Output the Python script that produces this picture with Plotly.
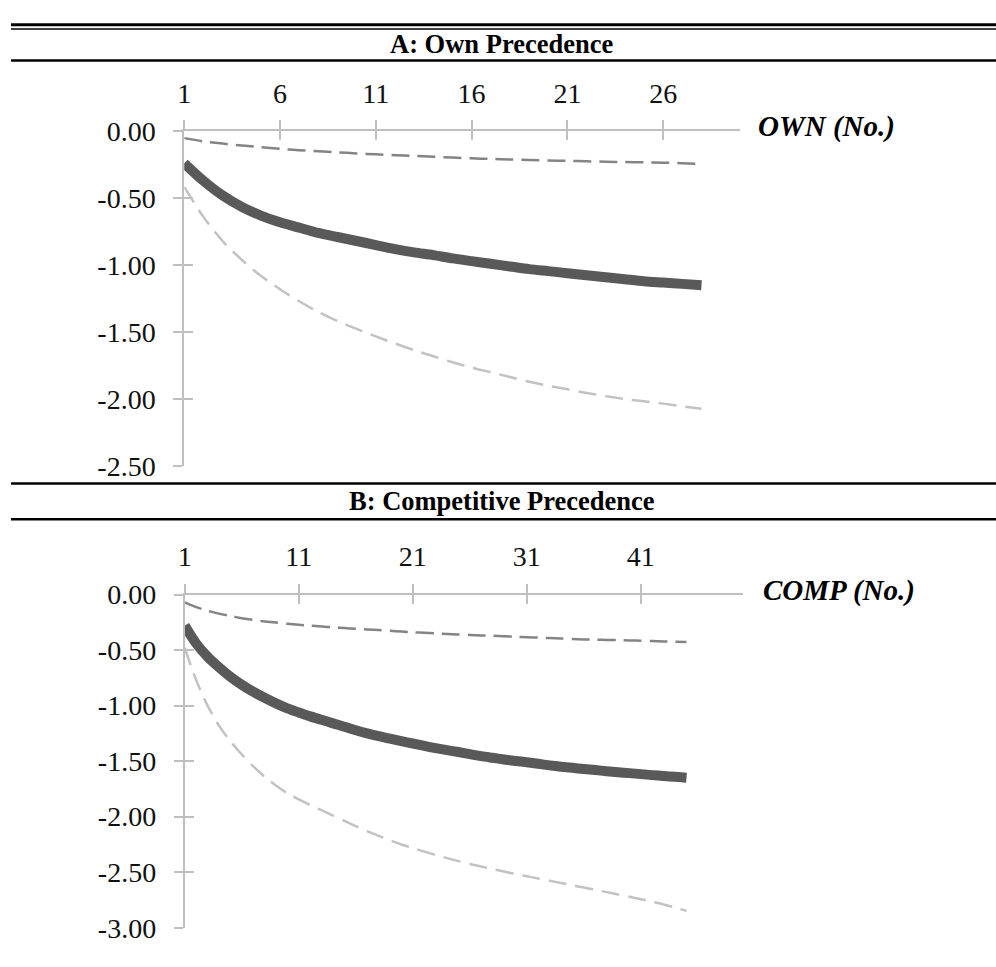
import plotly.graph_objects as go

# ---------------- data ----------------
own_x = list(range(1, 29))
own_mean = [-0.24, -0.37, -0.48, -0.565, -0.63, -0.68, -0.72, -0.76, -0.79, -0.82,
            -0.85, -0.88, -0.905, -0.925, -0.95, -0.97, -0.99, -1.01, -1.03, -1.045,
            -1.06, -1.075, -1.09, -1.105, -1.12, -1.13, -1.14, -1.15]
own_upper = [-0.052, -0.076, -0.093, -0.107, -0.12, -0.132, -0.142, -0.150, -0.158, -0.166,
             -0.173, -0.179, -0.185, -0.191, -0.197, -0.203, -0.207, -0.211, -0.215, -0.219,
             -0.222, -0.225, -0.228, -0.231, -0.233, -0.235, -0.240, -0.245]
own_lower = [-0.416, -0.64, -0.82, -0.96, -1.08, -1.18, -1.27, -1.35, -1.418, -1.476,
             -1.532, -1.585, -1.635, -1.68, -1.725, -1.765, -1.80, -1.835, -1.87, -1.90,
             -1.927, -1.954, -1.978, -2.0, -2.017, -2.034, -2.054, -2.073]

comp_x = list(range(1, 46))
comp_mean = [-0.28, -0.44, -0.56, -0.655, -0.74, -0.812, -0.875, -0.93, -0.98, -1.025,
             -1.062, -1.097, -1.128, -1.16, -1.19, -1.222, -1.25, -1.275, -1.297, -1.32,
             -1.341, -1.363, -1.383, -1.401, -1.418, -1.437, -1.455, -1.47, -1.485, -1.498,
             -1.51, -1.524, -1.538, -1.55, -1.56, -1.571, -1.58, -1.591, -1.6, -1.608,
             -1.617, -1.626, -1.634, -1.641, -1.649]
comp_upper = [-0.07, -0.113, -0.146, -0.172, -0.194, -0.213, -0.229, -0.242, -0.253, -0.264,
              -0.273, -0.281, -0.288, -0.295, -0.302, -0.308, -0.314, -0.32, -0.327, -0.334,
              -0.34, -0.345, -0.35, -0.355, -0.36, -0.364, -0.368, -0.372, -0.376, -0.38,
              -0.384, -0.388, -0.392, -0.396, -0.40, -0.404, -0.406, -0.409, -0.411, -0.414,
              -0.416, -0.419, -0.422, -0.425, -0.428]
comp_lower = [-0.48, -0.77, -1.0, -1.18, -1.32, -1.44, -1.545, -1.64, -1.72, -1.79,
              -1.845, -1.895, -1.942, -1.99, -2.037, -2.085, -2.13, -2.172, -2.212, -2.25,
              -2.283, -2.315, -2.344, -2.373, -2.4, -2.426, -2.449, -2.472, -2.493, -2.516,
              -2.536, -2.557, -2.577, -2.597, -2.618, -2.638, -2.658, -2.679, -2.7, -2.72,
              -2.743, -2.766, -2.79, -2.818, -2.848]

own_xticks = [1, 6, 11, 16, 21, 26]
comp_xticks = [1, 11, 21, 31, 41]
own_yticks = [0.0, -0.5, -1.0, -1.5, -2.0, -2.5]
own_ytext = ["0.00", "-0.50", "-1.00", "-1.50", "-2.00", "-2.50"]
comp_yticks = [0.0, -0.5, -1.0, -1.5, -2.0, -2.5, -3.0]
comp_ytext = ["0.00", "-0.50", "-1.00", "-1.50", "-2.00", "-2.50", "-3.00"]

panel_titles = ["A: Own Precedence", "B: Competitive Precedence"]
axis_titles = ["OWN (No.)", "COMP (No.)"]

# ---------------- layout geometry (pixels) ----------------
W, H = 996, 967
def px(xp):
    return xp / W
def py(yp):
    return 1 - yp / H

SERIF = "Liberation Serif, Times New Roman, serif"
AXC = "#BFBFBF"
TICKFONT = dict(family=SERIF, size=28, color="#111111")

fig = go.Figure()

def add_panel(xs, mean, up, lo, xa, ya):
    fig.add_trace(go.Scatter(x=xs, y=up, mode="lines", xaxis=xa, yaxis=ya,
                             line=dict(color="#848484", width=2.5, dash="18px,8px",
                                       shape="spline", smoothing=0.8),
                             hoverinfo="skip"))
    fig.add_trace(go.Scatter(x=xs, y=lo, mode="lines", xaxis=xa, yaxis=ya,
                             line=dict(color="#C2C2C2", width=2.5, dash="18px,9px",
                                       shape="spline", smoothing=0.8),
                             hoverinfo="skip"))
    fig.add_trace(go.Scatter(x=xs, y=mean, mode="lines", xaxis=xa, yaxis=ya,
                             line=dict(color="#595959", width=10,
                                       shape="spline", smoothing=0.8),
                             hoverinfo="skip"))

add_panel(own_x, own_mean, own_upper, own_lower, "x", "y")
add_panel(comp_x, comp_mean, comp_upper, comp_lower, "x2", "y2")
# empty traces so the overlay (cross-tick) axes are drawn
for xa, ya in [("x3", "y"), ("x", "y3"), ("x4", "y2"), ("x2", "y4")]:
    fig.add_trace(go.Scatter(x=[], y=[], xaxis=xa, yaxis=ya, showlegend=False))

domA_x = [px(178.5), px(738)]
domA_y = [py(466), py(120)]
domB_x = [px(179), px(741.7)]
domB_y = [py(943), py(598.7)]

def xaxis_main(dom, rng, ticks, anchor):
    return dict(domain=dom, range=rng, anchor=anchor, side="top",
                tickmode="array", tickvals=ticks, ticktext=[str(t) for t in ticks],
                showline=True, linecolor=AXC, linewidth=2,
                ticks="outside", ticklen=9, tickwidth=2, tickcolor=AXC,
                ticklabelstandoff=6,
                showgrid=False, zeroline=False, tickfont=TICKFONT, fixedrange=True)

def xaxis_over(over, rng, ticks, anchor):
    return dict(overlaying=over, range=rng, anchor=anchor, side="top",
                tickmode="array", tickvals=ticks, showticklabels=False,
                showline=False, ticks="inside", ticklen=9, tickwidth=2, tickcolor=AXC,
                showgrid=False, zeroline=False, fixedrange=True)

def yaxis_main(dom, rng, ticks, text, anchor):
    return dict(domain=dom, range=rng, anchor=anchor, side="left",
                tickmode="array", tickvals=ticks, ticktext=text,
                showline=True, linecolor=AXC, linewidth=2,
                ticks="outside", ticklen=9, tickwidth=2, tickcolor=AXC,
                ticklabelstandoff=12,
                showgrid=False, zeroline=False, tickfont=TICKFONT, fixedrange=True)

def yaxis_over(over, rng, ticks, anchor):
    return dict(overlaying=over, range=rng, anchor=anchor, side="left",
                tickmode="array", tickvals=ticks, showticklabels=False,
                showline=False, ticks="inside", ticklen=9, tickwidth=2, tickcolor=AXC,
                showgrid=False, zeroline=False, fixedrange=True)

fig.update_layout(
    width=W, height=H,
    margin=dict(l=0, r=0, t=0, b=0),
    paper_bgcolor="white", plot_bgcolor="rgba(0,0,0,0)",
    showlegend=False, hovermode=False,
    xaxis=xaxis_main(domA_x, [1, 30], own_xticks, "y"),
    yaxis=yaxis_main(domA_y, [-2.5, 0], own_yticks, own_ytext, "x"),
    xaxis2=xaxis_main(domB_x, [1, 50], comp_xticks, "y2"),
    yaxis2=yaxis_main(domB_y, [-3, 0], comp_yticks, comp_ytext, "x2"),
    xaxis3=xaxis_over("x", [1, 30], own_xticks, "y"),
    yaxis3=yaxis_over("y", [-2.5, 0], own_yticks, "x"),
    xaxis4=xaxis_over("x2", [1, 50], comp_xticks, "y2"),
    yaxis4=yaxis_over("y2", [-3, 0], comp_yticks, "x2"),
)

# horizontal rules
def hline(yp, w):
    fig.add_shape(type="line", xref="paper", yref="paper", x0=px(4), x1=1,
                  y0=py(yp), y1=py(yp), line=dict(color="black", width=w))

hline(10, 3)
hline(14.5, 1.5)
hline(47, 2.5)
hline(484, 2.5)
hline(521, 2.5)

# panel titles
for title, yp in zip(panel_titles, [30, 502]):
    fig.add_annotation(text="<b>%s</b>" % title, xref="paper", yref="paper",
                       x=0.5, y=py(yp), xanchor="center", yanchor="middle",
                       showarrow=False, font=dict(family=SERIF, size=26.5, color="black"))

# axis titles
for title, xp, yp in zip(axis_titles, [754, 759], [115, 595]):
    fig.add_annotation(text="<b><i>%s</i></b>" % title, xref="paper", yref="paper",
                       x=px(xp), y=py(yp), xanchor="left", yanchor="middle",
                       showarrow=False, font=dict(family=SERIF, size=29, color="black"))

fig.write_html("out.html", config={"displayModeBar": False},
               post_script="document.body.style.margin='0px';"
                           "document.body.style.overflow='hidden';")
